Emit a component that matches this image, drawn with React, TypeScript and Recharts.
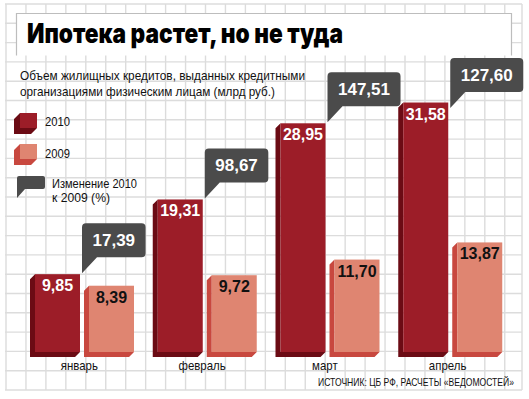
import React from 'react';
import { BarChart, Bar, XAxis, YAxis, LabelList } from 'recharts';

// ---- data ----
const months = ['январь', 'февраль', 'март', 'апрель'];
const values2010 = [9.85, 19.31, 28.95, 31.58];
const values2009 = [8.39, 9.72, 11.7, 13.87];
const changePct = [17.39, 98.67, 147.51, 127.6];

const title = 'Ипотека растет, но не туда';
const subtitle1 = 'Объем жилищных кредитов, выданных кредитными';
const subtitle2 = 'организациями физическим лицам (млрд руб.)';
const legend2010 = '2010';
const legend2009 = '2009';
const legendChange1 = 'Изменение 2010';
const legendChange2 = 'к 2009 (%)';
const source = 'ИСТОЧНИК: ЦБ РФ, РАСЧЕТЫ «ВЕДОМОСТЕЙ»';

const data = months.map((m, i) => ({
  month: m,
  v2010: values2010[i],
  v2009: values2009[i],
  change: changePct[i],
}));

// ---- style ----
const FACE_2010 = '#9c1d28';
const DARK_2010 = '#6b0b14';
const FACE_2009 = '#df8571';
const DARK_2009 = '#c8483f';
const CALLOUT = '#4b4b4b';
const GRID = '#dcdcdc';
const W = 529;
const H = 399;

const fmt = (v: number) => v.toFixed(2).replace('.', ',');

const box3d = (x: number, y: number, w: number, h: number, d: number, face: string, dark: string) => (
  <g>
    <polygon
      points={`${x},${y} ${x - d},${y + d} ${x - d},${y + h + d} ${x + w - d},${y + h + d} ${x + w},${y + h} ${x},${y + h}`}
      fill={dark}
    />
    <rect x={x} y={y} width={w} height={h} fill={face} />
  </g>
);

const makeShape = (face: string, dark: string) => (p: any) => {
  const { x, y, width, height } = p;
  if (width == null || height == null) return <g />;
  return box3d(x, y, width, height, 5, face, dark);
};

const getBox = (p: any) => {
  const vb = p.viewBox || {};
  const x = p.x ?? vb.x;
  const y = p.y ?? vb.y;
  const width = p.width ?? vb.width;
  const height = p.height ?? vb.height;
  return { x, y, width, height };
};

const valueLabel = (color: string) => (p: any) => {
  const { x, y, width } = getBox(p);
  if (x == null) return null;
  return (
    <text
      x={x + width / 2}
      y={y + 17}
      textAnchor="middle"
      fill={color}
      fontFamily="'Liberation Sans', Arial, sans-serif"
      fontWeight={700}
      fontSize={16}
    >
      {fmt(Number(p.value))}
    </text>
  );
};

const calloutPath = (L: number, T: number, R: number, B: number, r: number, tailW: number, tailH: number) =>
  `M${L},${T + r} Q${L},${T} ${L + r},${T} H${R - r} Q${R},${T} ${R},${T + r} V${B - r} Q${R},${B} ${R - r},${B} H${L + tailW} L${L},${B + tailH} Z`;

const calloutLabel = (p: any) => {
  const { x, y, width } = getBox(p);
  if (x == null) return null;
  const txt = fmt(Number(p.value));
  let textW = 0;
  for (const ch of txt) textW += ch === ',' ? 4.73 : 9.46;
  const boxW = textW + 21;
  const boxH = 34;
  const L = x + width + 2;
  let B = y - 17;
  let T = B - boxH;
  if (T < 58) {
    T = 58;
    B = T + boxH;
  }
  return (
    <g>
      <path d={calloutPath(L, T, L + boxW, B, 4, 15, 16)} fill={CALLOUT} />
      <text
        x={L + boxW / 2}
        y={T + 23}
        textAnchor="middle"
        fill="#fff"
        fontFamily="'Liberation Sans', Arial, sans-serif"
        fontWeight={700}
        fontSize={17}
      >
        {txt}
      </text>
    </g>
  );
};

const MonthTick = (p: any) => {
  const { x, y, payload } = p;
  return (
    <g transform={`translate(${x - 5},${y + 10}) scale(0.88,1)`}>
      <text x={0} y={0} textAnchor="middle" fill="#111" fontFamily="'Liberation Sans', Arial, sans-serif" fontSize={13}>
        {payload.value}
      </text>
    </g>
  );
};

const Background = () => {
  const vLines: number[] = [];
  for (let k = 0; k <= 25; k++) vLines.push(6 + 19.95 * k);
  vLines.push(522);
  const hLines: number[] = [];
  for (let k = 0; k <= 20; k++) hLines.push(4 + 19.3 * k);
  return (
    <svg width={W} height={H} style={{ position: 'absolute', left: 0, top: 0 }}>
      <rect x={0} y={0} width={W} height={H} fill="#fff" />
      {vLines.map((vx, i) => (
        <line key={'v' + i} x1={vx} x2={vx} y1={4} y2={390} stroke={GRID} strokeWidth={1.4} />
      ))}
      {hLines.map((hy, i) => (
        <line key={'h' + i} x1={5} x2={522} y1={hy} y2={hy} stroke={GRID} strokeWidth={1.4} />
      ))}
      <rect x={16.5} y={13.5} width={495} height={42} fill="#fff" />
      <path d="M16.5,55.5 V13.5 H511.5 V55.5" fill="none" stroke="#bdbdbd" strokeWidth={1.2} />
    </svg>
  );
};

const Overlay = () => {
  const sans = "'Liberation Sans', Arial, sans-serif";
  return (
    <svg width={W} height={H} style={{ position: 'absolute', left: 0, top: 0, pointerEvents: 'none' }}>
      <text x={27} y={43} fontFamily="Inter, Roboto, sans-serif" fontWeight={900} fontSize={27} fill="#000"
        textLength={316} lengthAdjust="spacingAndGlyphs">
        {title}
      </text>
      <text x={20} y={80} fontFamily={sans} fontSize={13} fill="#111" textLength={285} lengthAdjust="spacingAndGlyphs">
        {subtitle1}
      </text>
      <text x={20} y={96} fontFamily={sans} fontSize={13} fill="#111" textLength={255} lengthAdjust="spacingAndGlyphs">
        {subtitle2}
      </text>

      {box3d(20, 113, 17, 15, 6, FACE_2010, DARK_2010)}
      <text x={45} y={126} fontFamily={sans} fontSize={13} fill="#111" textLength={25} lengthAdjust="spacingAndGlyphs">
        {legend2010}
      </text>
      {box3d(20, 144, 17, 15, 6, FACE_2009, DARK_2009)}
      <text x={45} y={158} fontFamily={sans} fontSize={13} fill="#111" textLength={25} lengthAdjust="spacingAndGlyphs">
        {legend2009}
      </text>
      <path d={calloutPath(17, 176, 45, 189, 2, 8, 9)} fill={CALLOUT} />
      <text x={52} y={188} fontFamily={sans} fontSize={13} fill="#111" textLength={85} lengthAdjust="spacingAndGlyphs">
        {legendChange1}
      </text>
      <text x={52} y={202} fontFamily={sans} fontSize={13} fill="#111" textLength={58} lengthAdjust="spacingAndGlyphs">
        {legendChange2}
      </text>

      <text x={318} y={386} fontFamily={sans} fontSize={11.5} fill="#111" textLength={196} lengthAdjust="spacingAndGlyphs">
        {source}
      </text>
    </svg>
  );
};

export default function App() {
  return (
    <div style={{ position: 'absolute', left: 0, top: 0, width: W, height: H, background: '#fff' }}>
      <Background />
      <div style={{ position: 'absolute', left: 0, top: 0 }}>
        <BarChart
          width={W}
          height={H}
          data={data}
          margin={{ top: 36, right: 15, bottom: 0, left: 23 }}
          barSize={45}
          barGap={9}
        >
          <YAxis hide domain={[0, 40]} />
          <XAxis
            dataKey="month"
            height={47}
            axisLine={false}
            tickLine={false}
            interval={0}
            tick={<MonthTick />}
          />
          <Bar dataKey="v2010" fill={FACE_2010} isAnimationActive={false} shape={makeShape(FACE_2010, DARK_2010)}>
            <LabelList dataKey="v2010" content={valueLabel('#fff')} />
            <LabelList dataKey="change" content={calloutLabel} />
          </Bar>
          <Bar dataKey="v2009" fill={FACE_2009} isAnimationActive={false} shape={makeShape(FACE_2009, DARK_2009)}>
            <LabelList dataKey="v2009" content={valueLabel('#111')} />
          </Bar>
        </BarChart>
      </div>
      <Overlay />
    </div>
  );
}
